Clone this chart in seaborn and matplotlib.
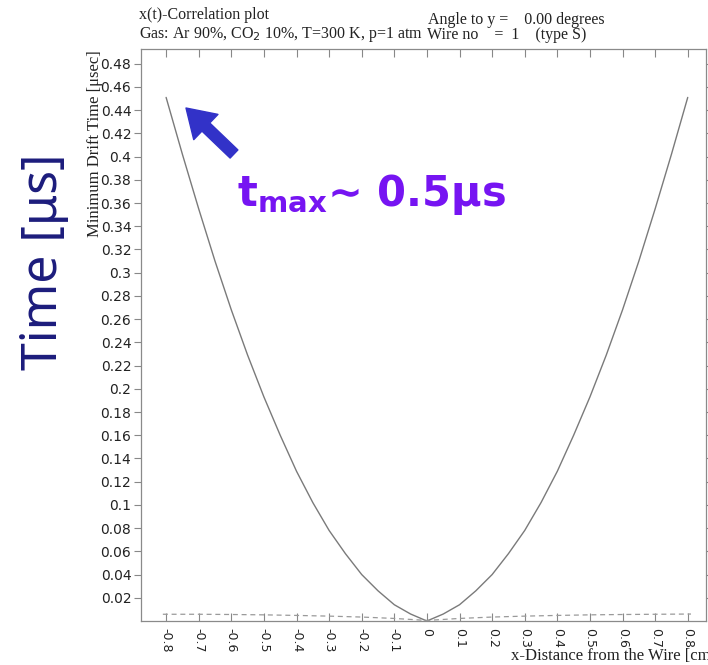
import matplotlib
matplotlib.use("Agg")
import matplotlib.pyplot as plt
import numpy as np
import pandas as pd
import seaborn as sns
from matplotlib.ticker import FuncFormatter

# x(t) correlation: minimum drift time vs distance from the wire
x_dist = [-0.80, -0.75, -0.70, -0.65, -0.60, -0.55, -0.50, -0.45, -0.40, -0.35,
          -0.30, -0.25, -0.20, -0.15, -0.10, -0.05, 0.00, 0.05, 0.10, 0.15,
          0.20, 0.25, 0.30, 0.35, 0.40, 0.45, 0.50, 0.55, 0.60, 0.65,
          0.70, 0.75, 0.80]
t_min = [0.451, 0.402, 0.355, 0.310, 0.268, 0.229, 0.193, 0.160, 0.129, 0.102,
         0.078, 0.058, 0.040, 0.026, 0.014, 0.006, 0.000, 0.006, 0.014, 0.026,
         0.040, 0.058, 0.078, 0.102, 0.129, 0.160, 0.193, 0.229, 0.268, 0.310,
         0.355, 0.402, 0.451]

# dashed curve near the bottom
x_dash = [-0.81, -0.70, -0.60, -0.50, -0.40, -0.30, -0.20, -0.10, 0.00,
          0.10, 0.20, 0.30, 0.40, 0.50, 0.60, 0.70, 0.81]
t_dash = [0.0058, 0.0058, 0.0056, 0.0053, 0.0048, 0.0042, 0.0034, 0.0022, 0.0005,
          0.0022, 0.0034, 0.0042, 0.0048, 0.0053, 0.0056, 0.0058, 0.0060]

x_ticks = [-0.8, -0.7, -0.6, -0.5, -0.4, -0.3, -0.2, -0.1, 0.0,
           0.1, 0.2, 0.3, 0.4, 0.5, 0.6, 0.7, 0.8]
y_ticks = [0.02, 0.04, 0.06, 0.08, 0.10, 0.12, 0.14, 0.16, 0.18, 0.20, 0.22, 0.24,
           0.26, 0.28, 0.30, 0.32, 0.34, 0.36, 0.38, 0.40, 0.42, 0.44, 0.46, 0.48]

df = pd.DataFrame({"x": x_dist, "t": t_min})
df_dash = pd.DataFrame({"x": x_dash, "t": t_dash})

sns.set_style("ticks")
plt.rcParams["font.family"] = ["DejaVu Sans"]

W, H = 708, 665
fig = plt.figure(figsize=(W / 100, H / 100), dpi=100)
ax = fig.add_axes([141 / W, 44 / H, 565 / W, 572 / H])

grey = "#7a7a7a"
sns.lineplot(data=df, x="x", y="t", ax=ax, color=grey, linewidth=1.0, estimator=None)
sns.lineplot(data=df_dash, x="x", y="t", ax=ax, color="#9a9a9a", linewidth=0.9,
             linestyle=(0, (4, 3)), estimator=None)

ax.set_xlim(-0.877, 0.856)
ax.set_ylim(0, 0.4927)
ax.set_xlabel("")
ax.set_ylabel("")

ax.set_xticks(x_ticks)
ax.set_xticklabels([f"{round(v, 1) + 0:g}" for v in x_ticks], rotation=-90,
                   fontsize=9, color="#222222")
ax.set_yticks(y_ticks)
ax.yaxis.set_major_formatter(FuncFormatter(lambda v, _: f"{round(v, 2):g}"))
ax.tick_params(axis="y", direction="out", length=5, width=0.8, color="#888888",
               labelsize=10, labelcolor="#222222", pad=2, right=True)
ax.tick_params(axis="x", direction="in", length=6, width=0.8, color="#888888",
               pad=5, top=True)
for s in ax.spines.values():
    s.set_color("#8a8a8a")
    s.set_linewidth(0.9)

serif = ["Liberation Serif", "DejaVu Serif"]
fig.text(139 / W, 1 - 15 / H, "x(t)-Correlation plot", family=serif, fontsize=11.5,
         va="center", ha="left", color="#222222")
fig.text(139 / W, 1 - 34 / H, "Gas: Ar 90%, CO$_2$ 10%, T=300 K, p=1 atm",
         family=serif, fontsize=11.5, va="center", ha="left", color="#222222")
fig.text(428 / W, 1 - 20 / H, "Angle to y =    0.00 degrees", family=serif,
         fontsize=11.5, va="center", ha="left", color="#222222")
fig.text(427 / W, 1 - 35 / H, "Wire no    =  1    (type S)", family=serif,
         fontsize=11.5, va="center", ha="left", color="#222222")
fig.text(95 / W, 1 - 144 / H, "Minimum Drift Time [\u03bcsec]", family=serif,
         fontsize=12, rotation=90, va="center", ha="center", color="#222222")
# label runs off the right edge in the original
fig.text(511 / W, 1 - 656 / H, "x-Distance from the Wire [cm]", family=serif,
         fontsize=12, va="center", ha="left", color="#222222")

# big slide annotations
fig.text(44 / W, 1 - 262 / H, "Time [\u03bcs]", fontsize=36, rotation=90,
         va="center", ha="center", color="#1c1c7c", family=["Noto Sans", "DejaVu Sans"])
fig.text(237 / W, 1 - 206 / H, "$\\mathbf{t}_{\\mathbf{max}}$\u223c 0.5\u03bcs",
         fontsize=30, fontweight="bold", color="#7614f2", va="baseline", ha="left")
ax.annotate("", xy=(186, H - 108), xycoords="figure pixels",
            xytext=(234, H - 154), textcoords="figure pixels",
            arrowprops=dict(arrowstyle="simple,head_length=1.1,head_width=1.4,tail_width=0.45",
                            color="#3232c8", mutation_scale=18, shrinkA=0, shrinkB=0))

fig.savefig("out.png", dpi=100)
